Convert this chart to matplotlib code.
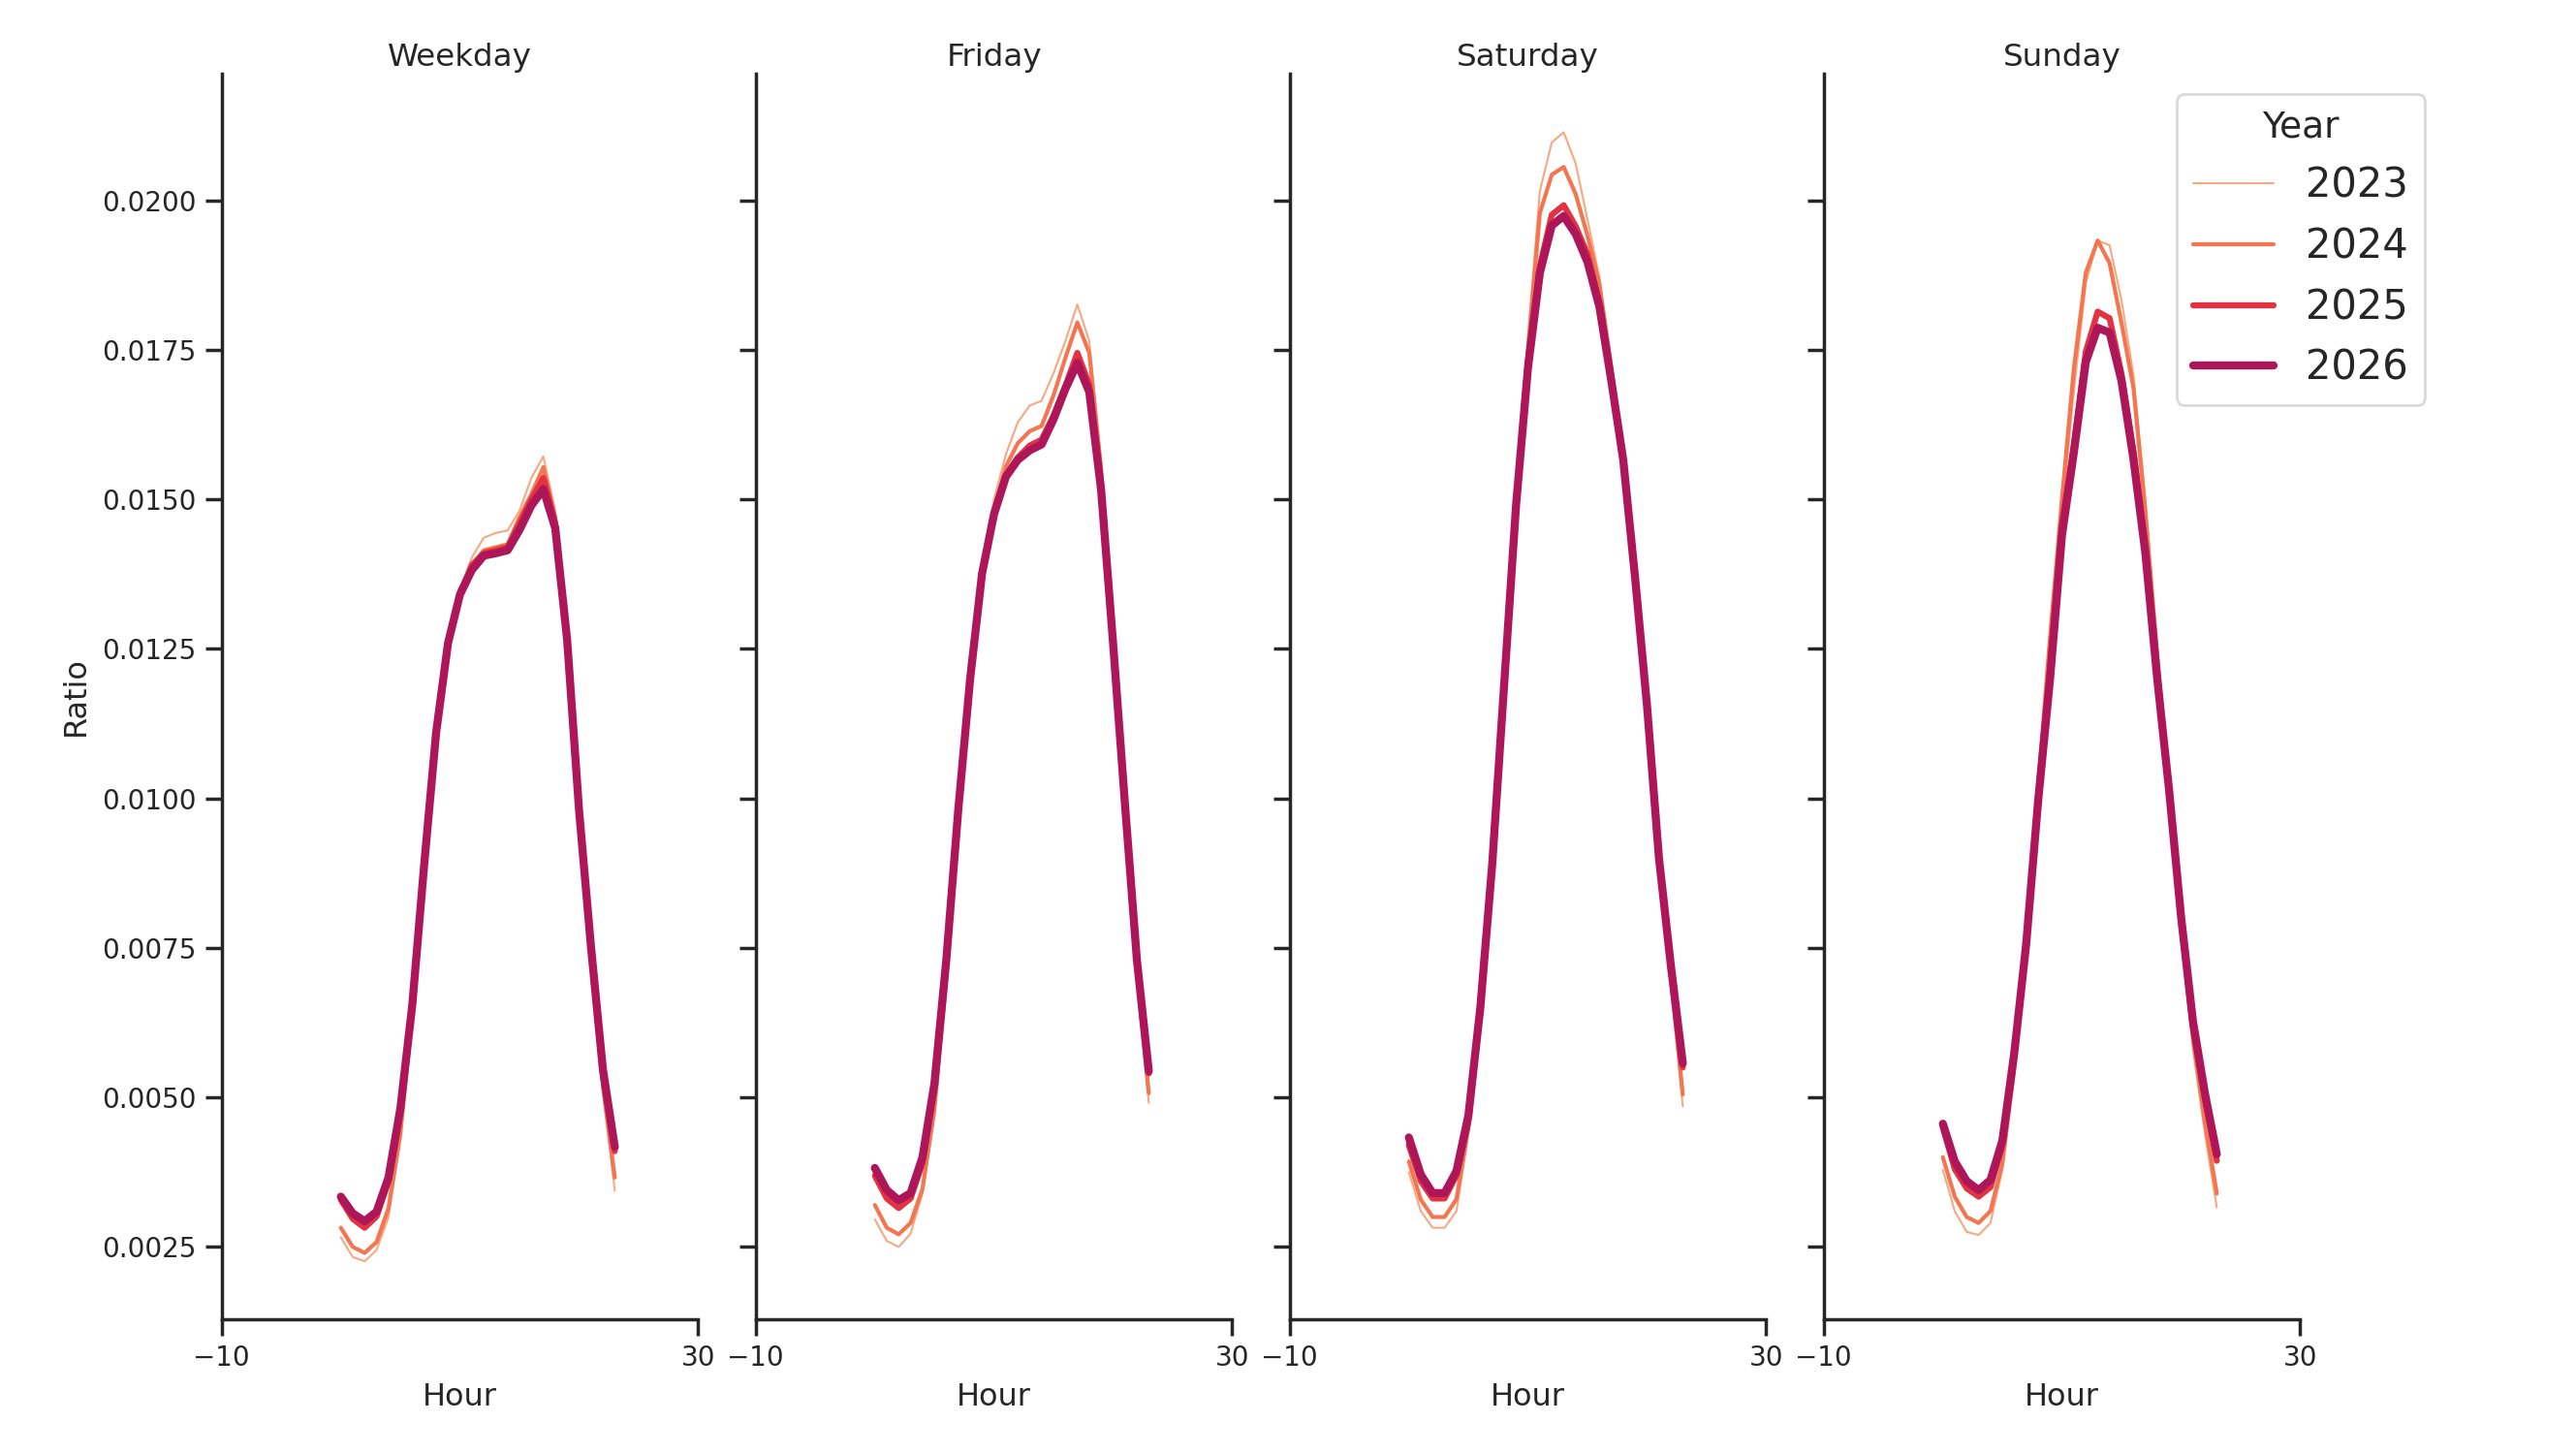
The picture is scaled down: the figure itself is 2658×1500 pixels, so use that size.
import matplotlib
matplotlib.use("Agg")
import matplotlib.pyplot as plt
import numpy as np

hours = list(range(24))
years = [2023, 2024, 2025, 2026]
panels = ["Weekday", "Friday", "Saturday", "Sunday"]

weekday_2023 = [0.00266, 0.00233, 0.00226, 0.00245, 0.0030, 0.0043, 0.0063, 0.0087, 0.0111, 0.0126, 0.0135, 0.01403,
                0.01436, 0.01444, 0.01448, 0.01481, 0.01536, 0.01572, 0.0148, 0.0127, 0.0097, 0.0073, 0.0051, 0.00344]
weekday_2024 = [0.00282, 0.0025, 0.0024, 0.00258, 0.00315, 0.0044, 0.0064, 0.0088, 0.0111, 0.0126, 0.0135, 0.0139,
                0.01415, 0.0142, 0.01425, 0.0147, 0.01509, 0.01554, 0.0147, 0.0127, 0.0097, 0.0074, 0.0052, 0.00366]
weekday_2025 = [0.00329, 0.00297, 0.00282, 0.00301, 0.0036, 0.0048, 0.00655, 0.0089, 0.0111, 0.0126, 0.01341, 0.0139,
                0.0141, 0.01415, 0.0142, 0.0146, 0.0150, 0.01536, 0.0146, 0.0127, 0.0098, 0.0075, 0.0054, 0.0041]
weekday_2026 = [0.00334, 0.00306, 0.00293, 0.00309, 0.00366, 0.00482, 0.00655, 0.0089, 0.0111, 0.0126, 0.01341, 0.01382,
                0.01406, 0.0141, 0.01415, 0.01449, 0.0149, 0.01517, 0.01452, 0.01265, 0.0098, 0.00752, 0.00547, 0.00417]

friday_2023 = [0.00296, 0.0026, 0.0025, 0.00272, 0.0034, 0.0047, 0.0069, 0.0095, 0.0120, 0.0139, 0.0150, 0.01575,
               0.01629, 0.01657, 0.01665, 0.01711, 0.01765, 0.01826, 0.01765, 0.0156, 0.0127, 0.0097, 0.0070, 0.00491]
friday_2024 = [0.0032, 0.00282, 0.00271, 0.0029, 0.00347, 0.0048, 0.0070, 0.0096, 0.0120, 0.0138, 0.0148, 0.01555,
               0.01594, 0.01614, 0.01623, 0.01674, 0.01737, 0.01796, 0.01745, 0.0155, 0.0127, 0.0098, 0.0071, 0.00507]
friday_2025 = [0.00369, 0.00331, 0.00315, 0.00331, 0.0039, 0.0052, 0.0073, 0.0098, 0.0120, 0.01376, 0.01475, 0.0154,
               0.0157, 0.0159, 0.0160, 0.0164, 0.0169, 0.01745, 0.01692, 0.0152, 0.0126, 0.0099, 0.0073, 0.0054]
friday_2026 = [0.00382, 0.00345, 0.00328, 0.0034, 0.0040, 0.00523, 0.0073, 0.0098, 0.0120, 0.01376, 0.01475, 0.01538,
               0.01566, 0.01582, 0.01592, 0.01634, 0.01685, 0.01728, 0.0168, 0.01515, 0.0126, 0.0099, 0.0073, 0.00544]

saturday_2023 = [0.00375, 0.0031, 0.00282, 0.00282, 0.0031, 0.0044, 0.0063, 0.0088, 0.0121, 0.0153, 0.0177, 0.02016,
                 0.02097, 0.02114, 0.02062, 0.01968, 0.01871, 0.0173, 0.0157, 0.0136, 0.0113, 0.0088, 0.0069, 0.00485]
saturday_2024 = [0.00393, 0.00329, 0.0030, 0.0030, 0.0033, 0.0045, 0.0064, 0.0089, 0.0120, 0.0151, 0.0175, 0.01979,
                 0.02043, 0.02056, 0.02011, 0.01941, 0.0186, 0.0172, 0.0157, 0.0136, 0.0114, 0.0089, 0.0070, 0.00505]
saturday_2025 = [0.0042, 0.0036, 0.00331, 0.00331, 0.0037, 0.0046, 0.0065, 0.0089, 0.0119, 0.0149, 0.0173, 0.0189,
                 0.01976, 0.01992, 0.01957, 0.0191, 0.0183, 0.0170, 0.01566, 0.01368, 0.01154, 0.0090, 0.0072, 0.0055]
saturday_2026 = [0.00433, 0.00371, 0.0034, 0.0034, 0.00377, 0.0047, 0.0065, 0.0089, 0.0119, 0.0149, 0.0172, 0.01879,
                 0.01958, 0.01974, 0.01944, 0.01897, 0.01822, 0.01698, 0.01566, 0.01368, 0.01154, 0.0090, 0.0072, 0.00557]

sunday_2023 = [0.00379, 0.0031, 0.00275, 0.0027, 0.0029, 0.0038, 0.0054, 0.0075, 0.0101, 0.0126, 0.0148, 0.0168,
               0.01862, 0.01933, 0.01925, 0.01833, 0.01708, 0.0150, 0.0125, 0.0101, 0.0077, 0.0058, 0.0044, 0.00316]
sunday_2024 = [0.0040, 0.00334, 0.0030, 0.0029, 0.0031, 0.0039, 0.0055, 0.0076, 0.0102, 0.0127, 0.0150, 0.01719,
               0.01879, 0.01933, 0.01895, 0.01795, 0.01687, 0.0148, 0.0124, 0.0101, 0.0078, 0.0060, 0.0046, 0.00339]
sunday_2025 = [0.0045, 0.0038, 0.00348, 0.00334, 0.0035, 0.0042, 0.0057, 0.0076, 0.0100, 0.0122, 0.0146, 0.0159,
               0.01747, 0.01814, 0.01803, 0.0171, 0.0158, 0.0142, 0.0121, 0.0101, 0.0080, 0.0062, 0.0050, 0.00394]
sunday_2026 = [0.00456, 0.00393, 0.0036, 0.00345, 0.00362, 0.00428, 0.00575, 0.00757, 0.00996, 0.0120, 0.0144, 0.01579,
               0.0173, 0.01787, 0.01779, 0.01698, 0.01568, 0.01411, 0.0120, 0.01013, 0.00802, 0.00627, 0.00507, 0.00405]

data = {
    "Weekday": [weekday_2023, weekday_2024, weekday_2025, weekday_2026],
    "Friday": [friday_2023, friday_2024, friday_2025, friday_2026],
    "Saturday": [saturday_2023, saturday_2024, saturday_2025, saturday_2026],
    "Sunday": [sunday_2023, sunday_2024, sunday_2025, sunday_2026],
}

yticks = [0.0025, 0.0050, 0.0075, 0.0100, 0.0125, 0.0150, 0.0175, 0.0200]
ytick_labels = ["0.0025", "0.0050", "0.0075", "0.0100", "0.0125", "0.0150", "0.0175", "0.0200"]
xticks = [-10, 30]
xtick_labels = ["\u221210", "30"]

colors = ["#f6a883", "#f37651", "#e13342", "#ad1759"]
widths = [0.75, 1.5, 2.25, 3.0]

DARK = "#262626"
plt.rcParams.update({
    "font.family": ["DejaVu Sans"],
    "text.color": DARK,
    "axes.labelcolor": DARK,
    "xtick.color": DARK,
    "ytick.color": DARK,
    "axes.edgecolor": DARK,
    "axes.linewidth": 1.25,
    "xtick.major.width": 1.25,
    "ytick.major.width": 1.25,
    "xtick.major.size": 6,
    "ytick.major.size": 6,
})

W, H = 2658, 1500
fig = plt.figure(figsize=(W / 200, H / 200), dpi=200)

left0 = 228.8 / W
aw = 491.6 / W
step = 551.0 / W
bottom = (H - 1361) / H
ah = 1285 / H

handles = []
axes = []
for i, name in enumerate(panels):
    ax = fig.add_axes([left0 + i * step, bottom, aw, ah], sharey=axes[0] if axes else None)
    axes.append(ax)
    for j, yr in enumerate(years):
        ln, = ax.plot(hours, data[name][j], color=colors[j], lw=widths[j],
                      solid_capstyle="round", solid_joinstyle="round", label=str(yr))
        if i == 0:
            handles.append(ln)
    ax.set_xlim(-10, 30)
    ax.set_ylim(0.00129, 0.02212)
    ax.set_xticks(xticks)
    ax.set_xticklabels(xtick_labels)
    ax.set_yticks(yticks)
    ax.tick_params(axis="both", labelsize=10)
    if i == 0:
        ax.set_yticklabels(ytick_labels)
        ax.set_ylabel("Ratio", fontsize=11.5)
    else:
        ax.tick_params(axis="y", labelleft=False)
    ax.set_xlabel("Hour", fontsize=11.5)
    ax.set_title(name, fontsize=11.7, pad=3.0)
    for s in ["top", "right"]:
        ax.spines[s].set_visible(False)

leg = fig.legend(handles=handles, labels=[str(y) for y in years], title="Year",
                 loc="upper left", bbox_to_anchor=(2246 / W, 1 - 97 / H), borderaxespad=0,
                 fontsize=15, title_fontsize=13.5, frameon=True)
leg.get_frame().set_edgecolor("#d0d0d0")

fig.savefig("out.png", dpi=200)
